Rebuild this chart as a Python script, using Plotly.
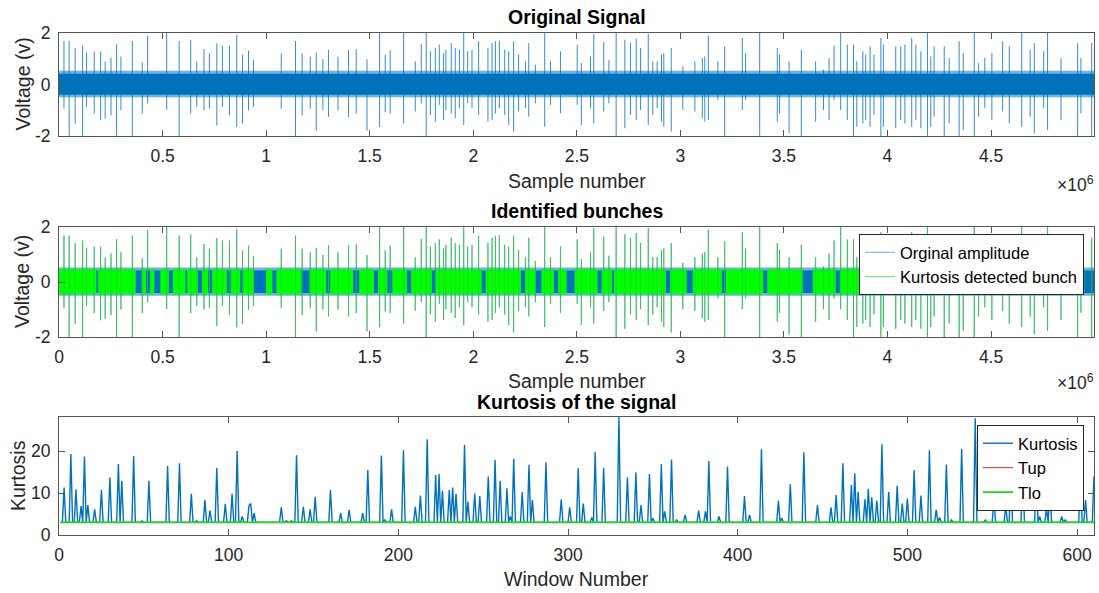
import plotly.graph_objects as go

# ---------------------------------------------------------------- data
n_samples = 4_997_120          # samples in the recording
n_windows = 610                # kurtosis windows (8192 samples each)

# impulsive events in the raw signal: sample index, positive and negative peak (V)
spike_pos = [
    24000, 49000, 78000, 114000, 133000, 170000, 201000, 223000, 251000, 278000,
    299000, 354000, 402000, 428000, 520000, 580000, 636000, 665000, 700000, 726000,
    762000, 789000, 823000, 858000, 886000, 915000, 939000, 1073000, 1142000, 1174000,
    1213000, 1242000, 1274000, 1301000, 1347000, 1398000, 1435000, 1487000, 1548000, 1575000,
    1599000, 1664000, 1720000, 1749000, 1773000, 1793000, 1817000, 1836000, 1857000, 1868000,
    1894000, 1913000, 1933000, 1954000, 1973000, 1994000, 2026000, 2071000, 2091000, 2107000,
    2126000, 2152000, 2171000, 2195000, 2219000, 2252000, 2268000, 2300000, 2345000, 2373000,
    2421000, 2502000, 2522000, 2566000, 2582000, 2630000, 2655000, 2690000, 2732000, 2759000,
    2787000, 2808000, 2845000, 2867000, 2888000, 2909000, 2920000, 2956000, 3012000, 3070000,
    3106000, 3118000, 3135000, 3181000, 3214000, 3299000, 3315000, 3383000, 3468000, 3479000,
    3525000, 3584000, 3653000, 3691000, 3718000, 3742000, 3774000, 3806000, 3836000, 3852000,
    3881000, 3895000, 3916000, 3935000, 3968000, 3980000, 4040000, 4064000, 4084000, 4117000,
    4137000, 4161000, 4193000, 4209000, 4225000, 4274000, 4298000, 4346000, 4366000, 4419000,
    4440000, 4470000, 4504000, 4556000, 4588000, 4648000, 4689000, 4709000, 4754000, 4773000,
    4838000, 4918000, 4934000, 4986000,
]
spike_up = [
    1.69, 1.69, 1.41, 1.51, 1.24, 1.28, 1.28, 0.89, 1.04, 1.56,
    1.08, 1.69, 0.86, 1.90, 2.00, 1.69, 1.73, 0.89, 1.38, 1.21,
    1.60, 1.51, 1.51, 1.93, 1.15, 1.32, 0.95, 1.21, 1.69, 1.21,
    1.08, 1.24, 0.98, 1.34, 1.08, 1.34, 1.37, 0.98, 2.00, 1.15,
    1.32, 2.00, 0.90, 1.57, 2.00, 1.29, 1.42, 1.55, 1.22, 1.35,
    1.61, 1.42, 1.35, 2.00, 1.29, 1.35, 1.68, 1.42, 1.61, 1.68,
    1.70, 1.35, 1.29, 1.68, 1.16, 0.90, 1.61, 0.77, 2.00, 0.90,
    1.29, 1.55, 0.83, 1.09, 1.96, 1.65, 0.96, 2.00, 1.74, 1.61,
    1.78, 1.42, 1.96, 0.90, 0.90, 1.16, 1.22, 1.42, 0.70, 0.90,
    1.03, 1.09, 1.91, 0.90, 1.48, 1.81, 1.22, 2.00, 1.42, 1.16,
    0.90, 1.35, 0.90, 0.57, 1.03, 1.51, 2.00, 1.55, 1.55, 0.90,
    1.29, 1.16, 1.48, 1.16, 1.81, 1.55, 1.48, 1.48, 1.55, 1.81,
    1.55, 1.29, 2.00, 1.09, 1.48, 1.48, 1.03, 1.68, 1.22, 2.00,
    0.83, 1.03, 1.22, 1.68, 1.48, 2.00, 1.35, 1.61, 1.29, 2.00,
    1.03, 1.61, 1.03, 1.61,
]
spike_down = [
    -0.94, -2.00, -1.52, -2.00, -0.87, -1.13, -1.39, -1.33, -1.20, -2.00,
    -1.00, -2.00, -1.13, -0.74, -0.98, -2.00, -1.13, -0.87, -1.00, -0.94,
    -1.59, -0.87, -1.20, -1.65, -1.52, -1.00, -0.87, -0.94, -2.00, -1.20,
    -0.94, -1.79, -1.00, -1.26, -1.00, -1.26, -1.13, -1.79, -1.65, -1.07,
    -1.13, -1.51, -1.05, -0.73, -2.00, -1.18, -1.44, -0.79, -1.38, -0.99,
    -1.12, -1.31, -0.92, -1.57, -0.73, -0.92, -1.18, -1.44, -1.38, -1.12,
    -0.92, -1.18, -1.57, -1.83, -1.05, -0.92, -1.25, -0.73, -1.64, -0.79,
    -1.12, -0.79, -1.57, -0.92, -1.51, -1.05, -0.73, -2.00, -1.70, -1.18,
    -1.38, -0.99, -1.57, -1.18, -0.92, -1.44, -1.64, -1.83, -0.99, -1.05,
    -1.31, -1.44, -1.38, -0.60, -2.00, -0.99, -0.60, -2.00, -1.44, -1.12,
    -1.90, -2.00, -1.44, -0.99, -1.38, -0.60, -0.99, -1.38, -2.00, -1.64,
    -1.51, -1.38, -1.64, -1.18, -2.00, -1.64, -1.70, -1.38, -1.51, -1.64,
    -1.38, -1.70, -2.00, -1.64, -1.25, -2.00, -1.51, -2.00, -1.77, -2.00,
    -1.25, -0.92, -1.38, -1.05, -1.51, -1.64, -1.25, -1.90, -0.92, -1.77,
    -1.38, -2.00, -1.12, -2.00,
]

# background noise amplitude (V): dense core and ragged edge
noise_core = [-0.40, 0.42]
noise_edge = [-0.50, 0.53]

# stretches with no detected bunch (samples)
quiet_start = [
    180000, 370000, 420000, 460000, 530000, 610000, 670000, 720000, 810000, 875000,
    940000, 1030000, 1170000, 1290000, 1420000, 1520000, 1585000, 1680000, 1800000, 2040000,
    2230000, 2300000, 2390000, 2450000, 2600000, 2670000, 2930000, 3030000, 3200000, 3400000,
    3590000, 3750000, 4070000, 4370000, 4610000, 4790000, 4950000,
]
quiet_end = [
    190000, 400000, 440000, 490000, 550000, 620000, 690000, 740000, 830000, 890000,
    1000000, 1050000, 1210000, 1310000, 1450000, 1540000, 1610000, 1700000, 1820000, 2060000,
    2250000, 2330000, 2410000, 2490000, 2620000, 2680000, 2950000, 3060000, 3220000, 3420000,
    3640000, 3770000, 4100000, 4410000, 4620000, 4810000, 4997120,
]

# kurtosis per window: resting level and the windows that rise above it
kurt_baseline = 3.0
kurt_peak_window = [
    3, 7, 10, 13, 15, 17, 21, 25, 30, 35, 37, 44, 49, 53, 64, 71, 78, 81, 86, 89,
    93, 98, 102, 105, 108, 112, 113, 115, 131, 134, 137, 140, 144, 148, 151, 160, 166, 171, 179, 182,
    190, 192, 196, 203, 210, 213, 217, 222, 224, 226, 230, 232, 234, 239, 241, 245, 248, 253, 257, 260,
    264, 266, 268, 273, 277, 279, 287, 296, 301, 306, 309, 314, 316, 321, 330, 335, 340, 343, 348, 350,
    355, 357, 361, 364, 369, 377, 381, 383, 389, 394, 404, 407, 414, 424, 426, 431, 439, 447, 455, 458,
    462, 467, 469, 471, 475, 477, 479, 482, 485, 489, 494, 497, 500, 504, 508, 513, 517, 519, 523, 526,
    532, 540, 546, 551, 558, 561, 568, 576, 578, 582, 584, 591, 593, 602, 605, 610,
]
kurt_peak_value = [
    11.3, 19.3, 10.9, 6.9, 18.7, 7.1, 6.1, 10.7, 13.7, 16.9, 12.9, 18.8, 3.4, 12.9, 16.4, 17.1, 9.8, 3.4, 8.3, 5.8,
    16.0, 7.4, 9.8, 20.0, 4.4, 7.0, 7.5, 5.2, 6.6, 3.4, 3.4, 19.0, 6.7, 6.1, 9.1, 10.7, 5.2, 6.0, 5.2, 15.5,
    18.9, 3.6, 6.1, 20.2, 6.7, 9.4, 22.8, 14.3, 14.5, 10.6, 10.7, 11.3, 9.8, 21.4, 7.9, 9.9, 9.3, 13.9, 17.9, 12.9,
    11.1, 4.4, 18.1, 10.2, 16.7, 8.3, 17.3, 8.5, 6.6, 15.9, 7.5, 4.2, 19.8, 16.0, 28.1, 13.7, 14.9, 7.1, 14.5, 4.0,
    16.9, 5.6, 18.0, 3.6, 4.8, 5.8, 5.6, 17.6, 4.4, 16.3, 9.3, 4.8, 20.4, 8.2, 4.0, 12.1, 19.7, 7.1, 6.6, 9.5,
    17.1, 11.9, 14.7, 10.3, 8.5, 11.0, 9.0, 8.2, 21.6, 10.3, 11.7, 7.5, 8.7, 15.5, 9.4, 20.2, 6.0, 4.2, 16.8, 3.6,
    20.5, 27.8, 3.6, 8.6, 6.9, 14.0, 17.0, 15.0, 4.4, 6.3, 12.0, 4.4, 3.6, 15.0, 8.3, 14.0,
]
t_up = 3.0
t_lo = 3.0

x_tick_vals = [0, 500000, 1000000, 1500000, 2000000, 2500000, 3000000, 3500000, 4000000, 4500000]
x_tick_text = ["0", "0.5", "1", "1.5", "2", "2.5", "3", "3.5", "4", "4.5"]
v_ticks = [-2, 0, 2]
v_tick_text = ["-2", "0", "2"]
w_ticks = [0, 100, 200, 300, 400, 500, 600]
k_ticks = [0, 10, 20]

# ---------------------------------------------------------------- style
W, H = 1099, 593
BLUE = "#0072BD"
GREEN = "#00FF00"
FONT = "Liberation Sans, Arial, Helvetica, sans-serif"
AX_COL = "#262626"


def fx(p):
    return p / W


def fy(p):
    return 1 - p / H


def spike_xy(pos, up, down):
    xs, ys = [], []
    for s, u, d in zip(pos, up, down):
        xs += [s, s, None]
        ys += [d, u, None]
    return xs, ys


def band_xy(starts, ends, lo, hi):
    xs, ys = [], []
    for a, b in zip(starts, ends):
        xs += [a, b, b, a, a, None]
        ys += [lo, lo, hi, hi, lo, None]
    return xs, ys


fig = go.Figure()
sx, sy = spike_xy(spike_pos, spike_up, spike_down)

# --- panel 1: raw signal
for (lo, hi), op in ((noise_edge, 0.55), (noise_core, 1.0)):
    bx, by = band_xy([1], [n_samples], lo, hi)
    fig.add_trace(go.Scatter(x=bx, y=by, mode="lines", fill="toself", fillcolor=BLUE,
                             line=dict(width=0), opacity=op, showlegend=False,
                             hoverinfo="skip", xaxis="x", yaxis="y"))
fig.add_trace(go.Scatter(x=sx, y=sy, mode="lines", line=dict(color=BLUE, width=1),
                         opacity=0.8, showlegend=False, xaxis="x", yaxis="y"))

# --- panel 2: raw signal with detected bunches on top
bunch_start = [1] + quiet_end[:-1]
bunch_end = quiet_start
for (lo, hi), op in ((noise_edge, 0.55), (noise_core, 1.0)):
    bx, by = band_xy([1], [n_samples], lo, hi)
    fig.add_trace(go.Scatter(x=bx, y=by, mode="lines", fill="toself", fillcolor=BLUE,
                             line=dict(width=0), opacity=op, showlegend=False,
                             hoverinfo="skip", xaxis="x2", yaxis="y2"))
fig.add_trace(go.Scatter(x=sx, y=sy, mode="lines", line=dict(color=BLUE, width=1),
                         opacity=0.6, name="Orginal amplitude", legend="legend",
                         xaxis="x2", yaxis="y2"))
for (lo, hi), op in (((-0.47, 0.49), 0.6), ((-0.40, 0.42), 1.0)):
    gx, gy = band_xy(bunch_start, bunch_end, lo, hi)
    fig.add_trace(go.Scatter(x=gx, y=gy, mode="lines", fill="toself", fillcolor=GREEN,
                             line=dict(width=0), opacity=op, showlegend=False,
                             hoverinfo="skip", xaxis="x2", yaxis="y2"))
fig.add_trace(go.Scatter(x=sx, y=sy, mode="lines", line=dict(color="rgb(40,205,40)", width=1),
                         opacity=0.75, name="Kurtosis detected bunch", legend="legend",
                         xaxis="x2", yaxis="y2"))

# --- panel 3: kurtosis and thresholds
kurt = [kurt_baseline] * n_windows
for w, v in zip(kurt_peak_window, kurt_peak_value):
    kurt[w - 1] = v
win = list(range(1, n_windows + 1))
fig.add_trace(go.Scatter(x=win, y=kurt, mode="lines", line=dict(color=BLUE, width=1.4),
                         name="Kurtosis", legend="legend2", xaxis="x3", yaxis="y3"))
fig.add_trace(go.Scatter(x=[1, n_windows], y=[t_up, t_up], mode="lines",
                         line=dict(color="#E02020", width=1), name="Tup",
                         legend="legend2", xaxis="x3", yaxis="y3"))
fig.add_trace(go.Scatter(x=[1, n_windows], y=[t_lo, t_lo], mode="lines",
                         line=dict(color="rgb(30,215,30)", width=1.8), name="Tlo",
                         legend="legend2", xaxis="x3", yaxis="y3"))

# ---------------------------------------------------------------- axes
x_dom = [fx(59), fx(1094)]
tick_font = dict(family=FONT, size=17.5, color=AX_COL)


def axis(**kw):
    base = dict(showline=True, linecolor="#555555", linewidth=1, mirror="ticks",
                ticks="inside", ticklen=6, tickcolor="#555555", showgrid=False,
                zeroline=False, tickfont=tick_font, automargin=False)
    base.update(kw)
    return base


layout = dict(
    width=W, height=H, margin=dict(l=0, r=0, t=0, b=0, pad=0, autoexpand=False),
    paper_bgcolor="white", plot_bgcolor="white",
    xaxis=axis(domain=x_dom, anchor="y", range=[1, n_samples],
               tickvals=x_tick_vals[1:], ticktext=x_tick_text[1:], ticklabelstandoff=4),
    yaxis=axis(domain=[fy(136), fy(33)], anchor="x", range=[-2, 2], tickvals=v_ticks,
               ticktext=v_tick_text, ticklabelstandoff=4),
    xaxis2=axis(domain=x_dom, anchor="y2", range=[0, n_samples],
                tickvals=x_tick_vals, ticktext=x_tick_text, ticklabelstandoff=4),
    yaxis2=axis(domain=[fy(337), fy(227)], anchor="x2", range=[-2, 2], tickvals=v_ticks,
                ticktext=v_tick_text, ticklabelstandoff=4),
    xaxis3=axis(domain=x_dom, anchor="y3", range=[0, n_windows], tickvals=w_ticks,
                ticklabelstandoff=4),
    yaxis3=axis(domain=[fy(535), fy(417)], anchor="x3", range=[0, 28.1], tickvals=k_ticks,
                ticklabelstandoff=4),
    legend=dict(x=fx(1084), y=fy(234), xanchor="right", yanchor="top",
                bgcolor="white", bordercolor=AX_COL, borderwidth=1,
                font=dict(family=FONT, size=16.5, color="black"),
                tracegroupgap=0, itemwidth=30),
    legend2=dict(x=fx(1084), y=fy(425), xanchor="right", yanchor="top",
                 bgcolor="white", bordercolor=AX_COL, borderwidth=1,
                 font=dict(family=FONT, size=16.5, color="black"),
                 tracegroupgap=0, itemwidth=30),
)
fig.update_layout(**layout)

ann = []


def text(x, y, s, size=19.5, bold=False, angle=0, xanchor="center", color="black"):
    ann.append(dict(x=fx(x), y=fy(y), xref="paper", yref="paper", showarrow=False,
                    text=f"<b>{s}</b>" if bold else s, textangle=angle,
                    xanchor=xanchor, yanchor="middle",
                    font=dict(family=FONT, size=size, color=color)))


text(576.5, 17, "Original Signal", bold=True)
text(576.5, 211, "Identified bunches", bold=True)
text(576.5, 402, "Kurtosis of the signal", bold=True)
text(576.5, 181, "Sample number", color=AX_COL)
text(576.5, 381, "Sample number", color=AX_COL)
text(576.5, 579, "Window Number", color=AX_COL)
text(22, 84.5, "Voltage (v)", angle=-90, color=AX_COL)
text(22, 282, "Voltage (v)", angle=-90, color=AX_COL)
text(18, 476, "Kurtosis", angle=-90, color=AX_COL)
text(1096, 184, "×10<sup>6</sup>", size=17.5, xanchor="right", color=AX_COL)
text(1096, 382, "×10<sup>6</sup>", size=17.5, xanchor="right", color=AX_COL)
fig.update_layout(annotations=ann)

fig.write_html("out.html")
